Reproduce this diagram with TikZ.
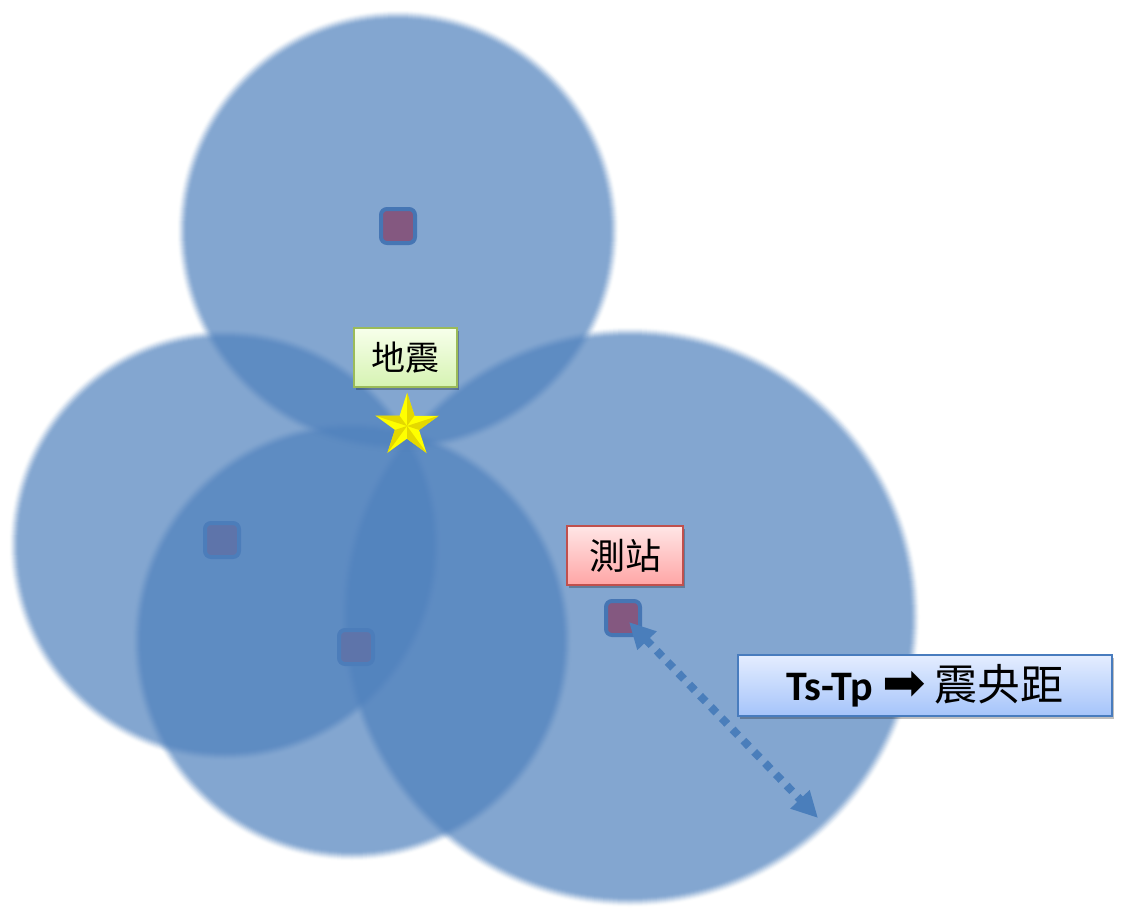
\documentclass[tikz,border=0pt]{standalone}
\usepackage{fontspec}
\newfontfamily\cjk{Noto Sans CJK TC}
\newfontfamily\carlito{Carlito}
\newfontfamily\dejavu{DejaVu Sans}
\usetikzlibrary{shapes.geometric,arrows.meta,shadows}
\definecolor{circblue}{RGB}{79,129,189}
\definecolor{sqfill}{RGB}{132,88,128}
\definecolor{sqline}{RGB}{70,118,180}
\definecolor{arrowblue}{RGB}{74,126,187}
\definecolor{greenline}{RGB}{155,187,89}
\definecolor{greentop}{RGB}{247,255,235}
\definecolor{greenbot}{RGB}{214,243,178}
\definecolor{redline}{RGB}{192,80,77}
\definecolor{redtop}{RGB}{255,230,230}
\definecolor{redbot}{RGB}{255,165,165}
\definecolor{blueline}{RGB}{72,124,190}
\definecolor{bluetop}{RGB}{228,237,255}
\definecolor{bluebot}{RGB}{165,196,250}
\definecolor{staryellow}{RGB}{255,255,0}
\definecolor{stardark}{RGB}{228,216,0}
% soft-edged disc: smoothstep alpha ramp over about 10pt
\newcommand\softdisc[3]{%
  \begin{scope}[opacity=0.7]
    \begin{scope}[transparency group]
      \foreach \k in {1,...,11}{%
        \pgfmathsetmacro\tnow{\k/11}%
        \pgfmathsetmacro\tpre{(\k-1)/11}%
        \pgfmathsetmacro\cnow{\tnow*\tnow*(3-2*\tnow)}%
        \pgfmathsetmacro\cpre{\tpre*\tpre*(3-2*\tpre)}%
        \pgfmathsetmacro\discalpha{\k==11 ? 1 : 1-(1-\cnow)/(1-\cpre)}%
        \pgfmathsetmacro\discrad{#3+6-\k}%
        \fill[circblue, fill opacity=\discalpha] (#1,#2) circle[radius=\discrad];
      }
    \end{scope}
  \end{scope}}
\tikzset{
  station/.style={draw=sqline, line width=4pt, fill=sqfill, rounded corners=6pt,
    minimum size=34pt, inner sep=0pt},
  lab/.style={line width=2.5pt, inner sep=0pt,
    drop shadow={shadow xshift=2pt, shadow yshift=-2.5pt, fill=black, opacity=0.25}},
  arrowline/.style={draw=arrowblue, line width=8pt, dash pattern=on 8pt off 7.6pt,
    {Triangle[length=26pt,width=25pt]}-{Triangle[length=26pt,width=25pt]}}
}
\begin{document}
\begin{tikzpicture}[x=1pt,y=-1pt]
\useasboundingbox[fill=white] (0,0) rectangle (1123,916);
% left and right circles
\softdisc{225}{545}{211}
\softdisc{630}{617}{285}
\node[station] (sR) at (623,618) {};
% stations under the bottom circle
\node[station] (sL) at (222,540) {};
\node[station] (sB) at (356,647) {};
\softdisc{352}{641}{215}
% top circle and station
\softdisc{398}{231}{216}
\node[station] (sT) at (398,226) {};
% labels
\node[lab, draw=greenline, top color=greentop, bottom color=greenbot,
  minimum width=103pt, minimum height=59pt,
  font=\cjk\fontsize{34}{40}\selectfont] (eq) at (405.5,357.5) {地震};
\node[lab, draw=redline, top color=redtop, bottom color=redbot,
  minimum width=116pt, minimum height=59pt,
  font=\cjk\fontsize{36}{40}\selectfont] (st) at (625,555.5) {測站};
\node[lab, draw=blueline, top color=bluetop, bottom color=bluebot,
  minimum width=374pt, minimum height=61pt] (tstp) at (925,685.5)
  {{\carlito\bfseries\fontsize{42}{44}\selectfont Ts-Tp}\hspace{10pt}{\dejavu\fontsize{52}{44}\selectfont ➡}\hspace{8pt}{\cjk\fontsize{43}{48}\selectfont 震央距}};
% star
\node[star, star points=5, star point ratio=2.618, minimum size=66pt, inner sep=0pt,
  fill=staryellow] (star) at (407,426) {};
\foreach \i/\j in {1/5,2/1,3/2,4/3,5/4}
  \fill[stardark] (star.center) -- (star.outer point \i) -- (star.inner point \j) -- cycle;
% distance arrow
\coordinate (a1) at (629,622);
\coordinate (a2) at (818,818);
\draw[arrowline] (a1) -- (a2);
\end{tikzpicture}
\end{document}
